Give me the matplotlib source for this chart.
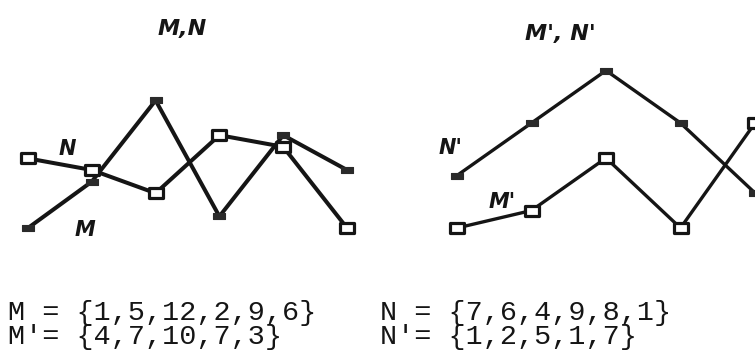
import matplotlib
matplotlib.use("Agg")
import matplotlib.pyplot as plt
from matplotlib.path import Path

# ---- data ----
M = [1, 5, 12, 2, 9, 6]
N = [7, 6, 4, 9, 8, 1]
M_prime = [4, 7, 10, 7, 3]
N_prime = [1, 2, 5, 1, 7]

W, H = 755, 364
DPI = 100
fig = plt.figure(figsize=(W / DPI, H / DPI), dpi=DPI)
fig.patch.set_facecolor("white")

def px_axes(x0, x1, ybot, ytop):
    return fig.add_axes([x0 / W, 1 - ybot / H, (x1 - x0) / W, (ybot - ytop) / H])

def rect_marker(w, h):
    verts = [(-w, -h), (w, -h), (w, h), (-w, h), (-w, -h)]
    codes = [Path.MOVETO, Path.LINETO, Path.LINETO, Path.LINETO, Path.CLOSEPOLY]
    return Path(verts, codes)

open_mk = rect_marker(0.7, 0.5)
fill_mk = rect_marker(0.8, 0.5)
ink = "#151515"

def draw(ax, vals, filled, lw):
    xs = list(range(len(vals)))
    if filled:
        ax.plot(xs, vals, color=ink, lw=lw, marker=fill_mk, ms=8,
                mfc="#2a2a2a", mec="#2a2a2a", mew=0.8, clip_on=False, zorder=2,
                solid_capstyle="butt")
    else:
        ax.plot(xs, vals, color=ink, lw=lw, marker=open_mk, ms=10.5,
                mfc="white", mec=ink, mew=2.3, clip_on=False, zorder=3,
                solid_capstyle="butt")

# left panel
axL = px_axes(28, 347, 228, 228 - 11 * 11.6)
axL.set_xlim(0, len(M) - 1)
axL.set_ylim(1, 12)
axL.axis("off")
draw(axL, M, True, 2.9)
draw(axL, N, False, 2.9)

# right panel
axR = px_axes(457, 755, 228, 228 - 9 * 17.5)
axR.set_xlim(0, len(M_prime) - 1)
axR.set_ylim(1, 10)
axR.axis("off")
draw(axR, M_prime, True, 2.4)
draw(axR, N_prime, False, 2.4)

lab = dict(family=["DejaVu Sans"], fontweight="bold", fontstyle="oblique",
           color=ink, va="baseline", ha="center")

def ftext(x, y, s, **kw):
    return fig.text(x / W, 1 - y / H, s, **kw)

ftext(182, 35, "M,N", fontsize=16, **lab)
ftext(560, 40, "M', N'", fontsize=16, **lab)
ftext(67, 155, "N", fontsize=15, **lab)
ftext(85, 236, "M", fontsize=15, **lab)
ftext(450, 154, "N'", fontsize=15, **lab)
ftext(502, 208, "M'", fontsize=15, **lab)

mono = dict(family=["Liberation Mono", "DejaVu Sans Mono"], fontsize=20.5,
            color=ink, ha="left", va="baseline", multialignment="left",
            linespacing=0.88)

def fmt(name, vals):
    return name + "{" + ",".join(map(str, vals)) + "}"

ftext(8, 344, fmt("M = ", M) + "\n" + fmt("M\u2032= ", M_prime), **mono)
ftext(380, 344, fmt("N = ", N) + "\n" + fmt("N\u2032= ", N_prime), **mono)

fig.savefig("out.png", dpi=DPI, facecolor="white")
